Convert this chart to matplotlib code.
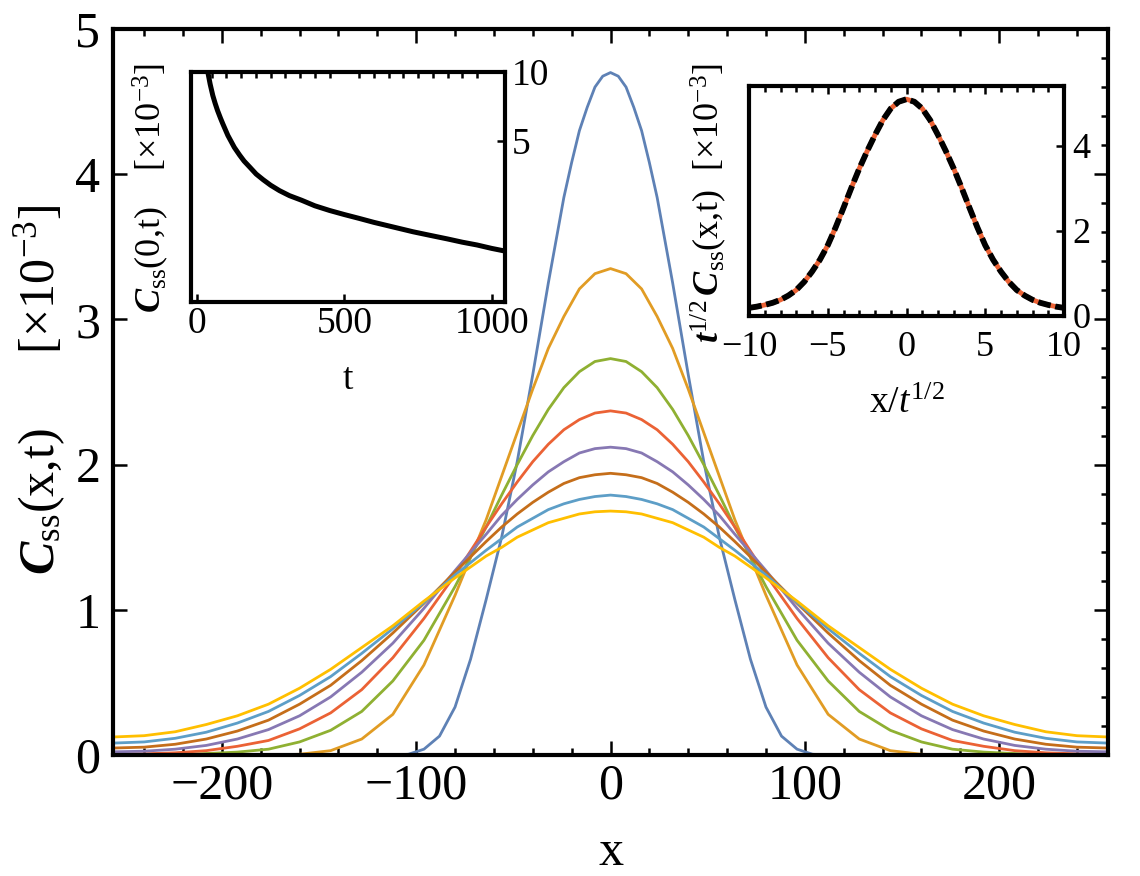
import matplotlib
matplotlib.use("Agg")
import matplotlib.pyplot as plt
import numpy as np
from matplotlib.ticker import MultipleLocator, NullLocator

plt.rcParams["font.family"] = ["Liberation Serif", "DejaVu Serif"]
plt.rcParams["mathtext.fontset"] = "custom"
plt.rcParams["mathtext.rm"] = "Liberation Serif"
plt.rcParams["mathtext.it"] = "Liberation Serif:italic"
plt.rcParams["mathtext.bf"] = "Liberation Serif:bold:italic"

# main panel: C_ss(x,t) [x1e-3]
# sampled every 16 sites in the tails and every 8 sites around the peak
x_grid = np.r_[np.arange(-256, -79, 16), np.arange(-64, 65, 8), np.arange(80, 257, 16)]

blue_x = np.r_[-256, np.arange(-112, -24, 8), np.arange(-24, 25, 4), np.arange(32, 113, 8), 256]
blue_y = [0,
          0, 0.005, 0.04, 0.13, 0.33, 0.66, 1.07, 1.50, 2.02, 2.62, 3.25,
          3.84, 4.08, 4.30, 4.46, 4.60, 4.675, 4.70, 4.675, 4.60, 4.46, 4.30, 4.08, 3.84,
          3.25, 2.62, 2.02, 1.50, 1.07, 0.66, 0.33, 0.13, 0.04, 0.005, 0,
          0]
orange_y = [0, 0, 0, 0, 0, 0, 0.005, 0.03, 0.11, 0.28, 0.62, 1.10,
            1.62, 1.92, 2.22, 2.52, 2.80, 3.02, 3.21, 3.315, 3.35, 3.315, 3.21, 3.02, 2.80, 2.52, 2.22, 1.92, 1.62,
            1.10, 0.62, 0.28, 0.11, 0.03, 0.005, 0, 0, 0, 0, 0, 0]
green_y = [0.0, 0.0, 0.0, 0.01, 0.02, 0.04, 0.09, 0.17, 0.30, 0.51, 0.79, 1.16,
           1.57, 1.79, 2.00, 2.20, 2.38, 2.53, 2.64, 2.71, 2.73, 2.71, 2.64, 2.53, 2.38, 2.20, 2.00, 1.79, 1.57,
           1.16, 0.79, 0.51, 0.30, 0.17, 0.09, 0.04, 0.02, 0.01, 0.0, 0.0, 0.0]
red_y = [0.006, 0.008, 0.015, 0.03, 0.06, 0.10, 0.18, 0.29, 0.45, 0.67, 0.94, 1.24,
         1.57, 1.73, 1.88, 2.02, 2.14, 2.24, 2.31, 2.355, 2.37, 2.355, 2.31, 2.24, 2.14, 2.02, 1.88, 1.73, 1.57,
         1.24, 0.94, 0.67, 0.45, 0.29, 0.18, 0.10, 0.06, 0.03, 0.015, 0.008, 0.006]
purple_y = [0.022, 0.026, 0.04, 0.066, 0.11, 0.175, 0.27, 0.40, 0.57, 0.77, 1.01, 1.27,
            1.52, 1.65, 1.76, 1.86, 1.95, 2.02, 2.08, 2.11, 2.12, 2.11, 2.08, 2.02, 1.95, 1.86, 1.76, 1.65, 1.52,
            1.27, 1.01, 0.77, 0.57, 0.40, 0.27, 0.175, 0.11, 0.066, 0.04, 0.026, 0.022]
brown_y = [0.048, 0.054, 0.074, 0.11, 0.165, 0.24, 0.35, 0.48, 0.65, 0.84, 1.045, 1.26,
           1.47, 1.57, 1.66, 1.74, 1.81, 1.87, 1.91, 1.93, 1.94, 1.93, 1.91, 1.87, 1.81, 1.74, 1.66, 1.57, 1.47,
           1.26, 1.045, 0.84, 0.65, 0.48, 0.35, 0.24, 0.165, 0.11, 0.074, 0.054, 0.048]
ltblue_y = [0.082, 0.09, 0.115, 0.157, 0.22, 0.30, 0.41, 0.54, 0.70, 0.87, 1.05, 1.24,
            1.41, 1.49, 1.57, 1.63, 1.69, 1.73, 1.76, 1.78, 1.79, 1.78, 1.76, 1.73, 1.69, 1.63, 1.57, 1.49, 1.41,
            1.24, 1.05, 0.87, 0.70, 0.54, 0.41, 0.30, 0.22, 0.157, 0.115, 0.09, 0.082]
yellow_y = [0.124, 0.133, 0.16, 0.21, 0.27, 0.35, 0.46, 0.59, 0.74, 0.89, 1.06, 1.22,
            1.37, 1.43, 1.50, 1.55, 1.60, 1.63, 1.66, 1.675, 1.68, 1.675, 1.66, 1.63, 1.60, 1.55, 1.50, 1.43, 1.37,
            1.22, 1.06, 0.89, 0.74, 0.59, 0.46, 0.35, 0.27, 0.21, 0.16, 0.133, 0.124]

series = [
    (blue_x, blue_y, "#5E81B5"),
    (x_grid, orange_y, "#E19C24"),
    (x_grid, green_y, "#8FB032"),
    (x_grid, red_y, "#EB6235"),
    (x_grid, purple_y, "#8778B3"),
    (x_grid, brown_y, "#C56E1A"),
    (x_grid, ltblue_y, "#5D9EC7"),
    (x_grid, yellow_y, "#FFBF00"),
]

# left inset: C_ss(0,t) [x1e-3]
t_vals = [28, 33, 37, 45, 54, 62, 70, 80, 88, 105, 127, 145, 160, 180, 201, 225, 250, 280, 314, 355,
          400, 450, 500, 550, 600, 665, 733, 790, 850, 900, 950, 1000, 1040]
c0_vals = [11.6, 10.7, 10.0, 8.85, 7.9, 7.3, 6.8, 6.3, 5.95, 5.3, 4.7, 4.35, 4.1, 3.85, 3.6, 3.4, 3.22, 3.05,
           2.90, 2.77, 2.62, 2.50, 2.40, 2.31, 2.22, 2.12, 2.02, 1.95, 1.88, 1.82, 1.77, 1.71, 1.67]

# right inset: scaling collapse t^1/2 C_ss vs x/t^1/2
u_vals = np.arange(-10, 10.01, 0.5)
collapse_vals = [0.19, 0.22, 0.26, 0.31, 0.38, 0.48, 0.61, 0.80, 1.04, 1.32, 1.66, 2.08, 2.54, 3.01,
                 3.46, 3.87, 4.25, 4.60, 4.87, 5.03,
                 5.09,
                 5.03, 4.87, 4.60, 4.25, 3.87, 3.46, 3.01, 2.54, 2.08, 1.66, 1.32, 1.04, 0.80, 0.61,
                 0.48, 0.38, 0.31, 0.26, 0.22, 0.19]

W, H = 1140, 876
fig = plt.figure(figsize=(W / 100, H / 100), dpi=100)


def px_axes(x0, y0, x1, y1):
    return fig.add_axes([x0 / W, 1 - y1 / H, (x1 - x0) / W, (y1 - y0) / H])


def frame(ax, lw=3.0):
    for s in ax.spines.values():
        s.set_linewidth(lw)


ax = px_axes(113, 29, 1108, 755)
for xs, ys, col in series:
    ax.plot(xs, ys, color=col, lw=2.0)
ax.set_xlim(-256, 256)
ax.set_ylim(0, 5)
ax.xaxis.set_major_locator(MultipleLocator(100))
ax.xaxis.set_minor_locator(MultipleLocator(20))
ax.yaxis.set_major_locator(MultipleLocator(1))
ax.yaxis.set_minor_locator(MultipleLocator(0.2))
ax.tick_params(which="both", direction="in", top=True, right=True, width=1.8, labelsize=36)
ax.tick_params(which="major", length=10)
ax.tick_params(which="minor", length=5, left=False)
ax.tick_params(axis="x", pad=6)
ax.tick_params(axis="y", pad=9)
frame(ax)

fig.text(611 / W, 1 - 853 / H, "x", fontsize=36, ha="center", va="center")
fig.text(40 / W, 1 - 390 / H,
         r"$\mathbf{C}_{\mathrm{ss}}$(x,t)" + "      [×10$^{-3}$]",
         fontsize=36, rotation=90, ha="center", va="center")

# left inset
ax1 = px_axes(191, 72, 505, 302)
ax1.set_facecolor("white")
ax1.plot(t_vals, c0_vals, color="black", lw=3.6)
ax1.set_xlim(-20, 1045)
ax1.set_yscale("log")
ax1.set_ylim(1.0, 10.0)
ax1.set_xticks([0, 500, 1000])
ax1.xaxis.set_minor_locator(MultipleLocator(50))
ax1.set_yticks([5, 10])
ax1.set_yticklabels(["5", "10"])
ax1.yaxis.set_minor_locator(NullLocator())
ax1.yaxis.tick_right()
ax1.tick_params(which="both", direction="in", width=1.8, labelsize=27)
ax1.tick_params(which="major", axis="x", bottom=True, top=False, length=6, pad=3)
ax1.tick_params(which="minor", axis="x", bottom=False, top=True, length=4)
ax1.tick_params(axis="y", left=False, right=True, length=6, pad=5)
frame(ax1)
ax1.set_xlabel("t", fontsize=27, labelpad=16)
fig.text(151 / W, 1 - 188 / H,
         r"$\mathbf{C}_{\mathrm{ss}}$(0,t)" + "    [×10$^{-3}$]",
         fontsize=26, rotation=90, ha="center", va="center")

# right inset
ax2 = px_axes(749, 86, 1064, 316)
ax2.set_facecolor("white")
ax2.plot(u_vals, collapse_vals, color="#EB6235", lw=3.5)
ax2.plot(u_vals, collapse_vals, color="black", lw=4.2, dashes=(2.2, 0.8))
ax2.set_xlim(-10, 10)
ax2.set_ylim(0, 5.4)
ax2.xaxis.set_major_locator(MultipleLocator(5))
ax2.xaxis.set_minor_locator(MultipleLocator(1))
ax2.set_yticks([0, 2, 4])
ax2.yaxis.set_minor_locator(NullLocator())
ax2.yaxis.tick_right()
ax2.tick_params(which="both", direction="in", width=1.8, labelsize=26, top=True)
ax2.tick_params(which="major", length=6)
ax2.tick_params(which="minor", length=4)
ax2.tick_params(axis="x", pad=11)
ax2.tick_params(axis="y", left=False, right=True, pad=6)
frame(ax2)
ax2.set_xlabel(r"x/$t^{1/2}$", fontsize=27, labelpad=16)
fig.text(709 / W, 1 - 203 / H,
         r"$\mathbf{t}^{1/2}\,\mathbf{C}_{\mathrm{ss}}$(x,t)" + "  [×10$^{-3}$]",
         fontsize=26, rotation=90, ha="center", va="center")

fig.savefig("out.png", dpi=100)
